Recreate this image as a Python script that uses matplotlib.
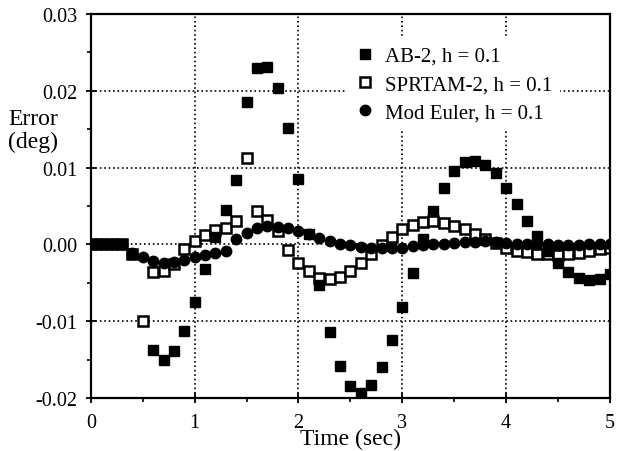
import numpy as np
import matplotlib
matplotlib.use("Agg")
import matplotlib.pyplot as plt
from matplotlib.ticker import MultipleLocator

# ─── data (error in deg, step h = 0.1) ──────────────────────────────
time = np.round(np.arange(0, 51) * 0.1, 1)

ab2 = [0.0, 0.0, 0.0, 0.0, -0.0012, np.nan, -0.0138, -0.0150, -0.0139, -0.0113,
       -0.0075, -0.0032, 0.0010, 0.0045, 0.0084, 0.0185, 0.0229, 0.0231, 0.0203, 0.0151,
       0.0085, 0.0013, -0.0053, -0.0114, -0.0158, -0.0184, -0.0193, -0.0183, -0.0159, -0.0125,
       -0.0082, -0.0037, 0.0007, 0.0043, 0.0073, 0.0095, 0.0107, 0.0108, 0.0103, 0.0093,
       0.0073, 0.0053, 0.0031, 0.0011, -0.0008, -0.0024, -0.0036, -0.0044, -0.0046, -0.0045,
       -0.0039]

sprtam = [0.0, 0.0, 0.0, 0.0, -0.0012, -0.0099, -0.0036, -0.0034, -0.0025, -0.0006,
          0.0004, 0.0012, 0.0019, 0.0021, 0.0031, 0.0112, 0.0043, 0.0032, 0.0017, -0.0007,
          -0.0024, -0.0035, -0.0044, -0.0045, -0.0042, -0.0035, -0.0024, -0.0012, -0.0001, 0.0010,
          0.0020, 0.0025, 0.0029, 0.0030, 0.0028, 0.0024, 0.0020, 0.0013, 0.0007, 0.0002,
          -0.0004, -0.0008, -0.0010, -0.0012, -0.0013, -0.0014, -0.0013, -0.0011, -0.0008, -0.0006,
          -0.0004]

mod_euler = [0.0, 0.0, 0.0, 0.0, -0.0011, -0.0017, -0.0022, -0.0024, -0.0023, -0.0020,
             -0.0017, -0.0014, -0.0011, -0.0008, 0.0007, 0.0015, 0.0022, 0.0024, 0.0023, 0.0022,
             0.0018, 0.0013, 0.0008, 0.0004, 0.0001, -0.0001, -0.0003, -0.0004, -0.0005, -0.0005,
             -0.0004, -0.0002, -0.0001, 0.0000, 0.0001, 0.0002, 0.0003, 0.0003, 0.0004, 0.0003,
             0.0002, 0.0001, 0.0000, 0.0000, 0.0000, -0.0001, -0.0001, -0.0001, 0.0000, 0.0000,
             0.0000]

labels = ["AB-2, h = 0.1", "SPRTAM-2, h = 0.1", "Mod Euler, h = 0.1"]
y_ticks = [-0.02, -0.01, 0.0, 0.01, 0.02, 0.03]
y_ticklabels = ["-0.02", "-0.01", "0.00", "0.01", "0.02", "0.03"]

# ─── plot ───────────────────────────────────────────────────────────
plt.rcParams["font.family"] = ["Liberation Serif", "DejaVu Serif"]
plt.rcParams["font.size"] = 14.5

fig = plt.figure(figsize=(6.18, 4.52), dpi=100)
ax = fig.add_axes([0.147, 0.117, 0.840, 0.850])

h_sp, = ax.plot(time, sprtam, ls="none", marker="s", ms=6.6, mfc="white",
                mec="black", mew=1.8, label=labels[1])
h_eu, = ax.plot(time, mod_euler, ls="none", marker="o", ms=7.5, color="black",
                label=labels[2])
h_ab, = ax.plot(time, ab2, ls="none", marker="s", ms=7.3, color="black",
                label=labels[0])

ax.set_xlim(0, 5)
ax.set_ylim(-0.02, 0.03)
ax.xaxis.set_minor_locator(MultipleLocator(0.5))
ax.yaxis.set_minor_locator(MultipleLocator(0.005))
ax.set_yticks(y_ticks)
ax.set_yticklabels(y_ticklabels)
ax.set_xticks(range(6))
ax.set_xticklabels([str(i) for i in range(6)])

ax.tick_params(which="major", direction="inout", length=7, width=1.3)
ax.tick_params(which="minor", direction="out", length=3, width=1.2)
ax.tick_params(axis="x", which="major", pad=7)
ax.tick_params(axis="y", which="major", pad=6)

ax.grid(True, which="major", ls=":", lw=1.2, color="black")
for s in ax.spines.values():
    s.set_linewidth(1.6)

ax.set_xlabel("Time (sec)", fontsize=17, labelpad=-3)
fig.text(0.013, 0.71, "Error\n(deg)", ha="left", va="center",
         fontsize=17, linespacing=1.1)

leg = ax.legend(handles=[h_ab, h_sp, h_eu], loc="upper left",
                bbox_to_anchor=(0.492, 0.937), frameon=True, fontsize=15,
                handlelength=1.0, handletextpad=0.45, labelspacing=0.42,
                borderaxespad=0.0, fancybox=False)
leg.get_frame().set_facecolor("white")
leg.get_frame().set_edgecolor("none")
leg.get_frame().set_alpha(1.0)

fig.savefig("out.png", dpi=100)
